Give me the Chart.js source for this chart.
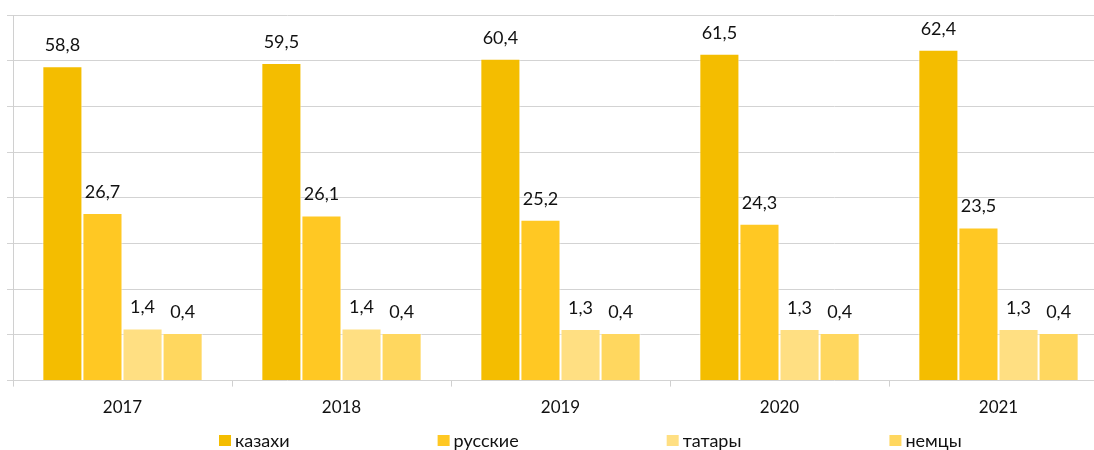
<!DOCTYPE html>
<html>
<head>
<meta charset="utf-8">
<script src="https://cdn.jsdelivr.net/npm/chart.js@4.4.1/dist/chart.umd.min.js"></script>
<style>
  html, body { margin: 0; padding: 0; background: #fff; overflow: hidden; }
  #wrap { position: relative; width: 1112px; height: 450px; }
</style>
</head>
<body>
<div id="wrap"><canvas id="nationChart"></canvas></div>
<script>
// годы и доли (%) по национальностям
const years = ['2017', '2018', '2019', '2020', '2021'];
const kazakhs = [58.8, 59.5, 60.4, 61.5, 62.4];
const russians = [26.7, 26.1, 25.2, 24.3, 23.5];
const tatars = [1.4, 1.4, 1.3, 1.3, 1.3];
const germans = [0.4, 0.4, 0.4, 0.4, 0.4];
const seriesNames = ['казахи', 'русские', 'татары', 'немцы'];
const seriesColors = ['#F4BD00', '#FFC823', '#FFDF82', '#FFD75F'];

const FONT = 'Lato, "Noto Sans", sans-serif';

// подписи значений над столбцами
const valueLabels = {
    id: 'valueLabels',
    afterDatasetsDraw(chart) {
        const ctx = chart.ctx;
        ctx.save();
        ctx.font = '18px ' + FONT;
        ctx.fillStyle = '#111';
        ctx.textAlign = 'center';
        ctx.textBaseline = 'middle';
        chart.data.datasets.forEach((ds, i) => {
            chart.getDatasetMeta(i).data.forEach((bar, j) => {
                const txt = ds.data[j].toFixed(1).replace('.', ',');
                ctx.fillText(txt, bar.x, bar.y - 21);
            });
        });
        ctx.restore();
    }
};

// легенда внизу, как в Excel
const bottomLegend = {
    id: 'bottomLegend',
    afterDraw(chart) {
        const ctx = chart.ctx;
        let x = chart.chartArea.left + 206;
        const y = chart.height - 9;
        ctx.save();
        ctx.font = '18px ' + FONT;
        ctx.textAlign = 'left';
        ctx.textBaseline = 'middle';
        chart.data.datasets.forEach((ds) => {
            ctx.fillStyle = ds.backgroundColor;
            ctx.fillRect(x, y - 6, 12, 11);
            ctx.fillStyle = '#111';
            ctx.fillText(ds.label, x + 16, y);
            x += 16 + ctx.measureText(ds.label).width + 148;
        });
        ctx.restore();
    }
};

const allSeries = [kazakhs, russians, tatars, germans];

const ctx = document.getElementById('nationChart').getContext('2d');
new Chart(ctx, {
    type: 'bar',
    data: {
        labels: years,
        datasets: allSeries.map((vals, i) => ({
            label: seriesNames[i],
            data: vals,
            backgroundColor: seriesColors[i],
            borderColor: 'rgba(255,255,255,0.7)',
            borderWidth: 1,
            base: -10,
            categoryPercentage: 0.732,
            barPercentage: 1
        }))
    },
    options: {
        responsive: true,
        maintainAspectRatio: false,
        animation: false,
        layout: { padding: { left: 7, top: 15, right: 4, bottom: 21 } },
        plugins: {
            legend: { display: false },
            tooltip: { enabled: false }
        },
        scales: {
            x: {
                grid: { drawOnChartArea: false, drawTicks: true, tickLength: 6, color: '#d0d0d0' },
                border: { display: false },
                ticks: { color: '#111', font: { family: FONT, size: 17 }, padding: 11 }
            },
            y: {
                min: -10,
                max: 70,
                ticks: { display: false, stepSize: 10 },
                grid: { color: '#d3d3d3', tickLength: 6, lineWidth: 1 },
                border: { display: true, color: '#d0d0d0' }
            }
        }
    },
    plugins: [valueLabels, bottomLegend]
});
</script>
</body>
</html>
